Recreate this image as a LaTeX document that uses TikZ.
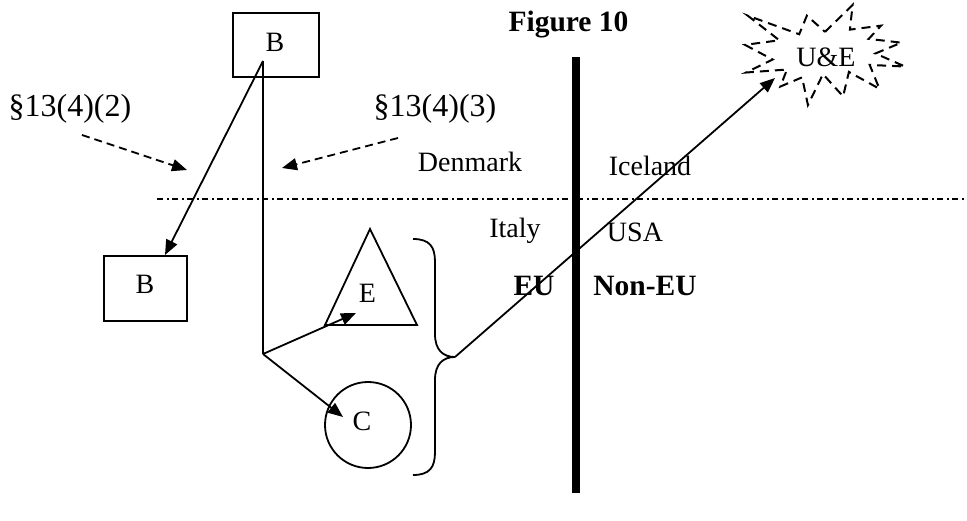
\documentclass[tikz,border=0pt]{standalone}
\usepackage{fontspec}
\setmainfont{Liberation Serif}
\usetikzlibrary{arrows.meta}
\begin{document}
\begin{tikzpicture}[x=1pt,y=-1pt,
  txt/.style={font=\fontsize{28}{32}\selectfont, inner sep=0pt, anchor=base},
  stxt/.style={txt, font=\fontsize{32}{36}\selectfont},
  btxt/.style={txt, font=\fontsize{29.5}{34}\selectfont\bfseries},
  ln/.style={line width=1.8pt},
  arr/.style={ln, -{Triangle[length=15pt,width=12pt]}},
  darr/.style={arr, dash pattern=on 8pt off 5pt},
  boxnode/.style={draw, line width=1.8pt, inner sep=0pt}]
\useasboundingbox (0,0) rectangle (967,521);
% boxes
\node[boxnode, minimum width=86pt, minimum height=64pt] (topB) at (276,45) {};
\node[txt] (topBt) at (275,52) {B};
\node[boxnode, minimum width=83pt, minimum height=65pt] (lowB) at (145.5,288.5) {};
\node[txt] (lowBt) at (145,294) {B};
% triangle
\coordinate (triL) at (325,325);
\coordinate (triA) at (370,229);
\coordinate (triR) at (417,325);
\draw[ln, line join=miter] (triL) -- (triA) -- (triR) -- cycle;
\node[txt] (Et) at (367.5,303) {E};
\coordinate (Etip) at (356,313);
% circle
\node[draw, circle, line width=1.8pt, minimum size=86pt, inner sep=0pt] (circ) at (368,425) {};
\node[txt] (Ct) at (362,430) {C};
\coordinate (Ctip) at (343,417);
% lines
\coordinate (T) at (263,61);
\coordinate (J) at (263,354);
\coordinate (lowBtip) at (165,255);
\draw[ln] (T) -- (J);
\draw[arr] (T) -- (lowBtip);
\draw[arr] (J) -- (Etip);
\draw[arr] (J) -- (Ctip);
% dashed arrows
\coordinate (d1s) at (82,135);
\coordinate (d1e) at (187,170);
\coordinate (d2s) at (398,138);
\coordinate (d2e) at (282,168);
\draw[darr] (d1s) -- (d1e);
\draw[darr] (d2s) -- (d2e);
% labels
\node[stxt] (s2) at (70,117) {§13(4)(2)};
\node[stxt] (s3) at (435,117) {§13(4)(3)};
\node[btxt] (fig) at (568.5,32) {Figure 10};
\node[txt] (den) at (470,172) {Denmark};
\node[txt] (ice) at (650,176) {Iceland};
\node[txt] (ita) at (515,238) {Italy};
\node[txt] (usa) at (635,242) {USA};
\node[btxt] (eu) at (534,296) {EU};
\node[btxt] (neu) at (645,296) {Non-EU};
% dash-dot border
\coordinate (hl) at (157,199);
\coordinate (hr) at (967,199);
\draw[ln, dash pattern=on 6pt off 3.5pt on 2pt off 3.5pt] (hl) -- (hr);
% thick divider
\coordinate (vt) at (576,57);
\coordinate (vb) at (576,493);
\draw[line width=8pt] (vt) -- (vb);
% brace
\coordinate (brtip) at (455,357);
\draw[ln] (413,239) .. controls (430,239) and (435,247) .. (435,262)
  -- (435,334) .. controls (435,350) and (443,357) .. (brtip)
  .. controls (443,357) and (435,364) .. (435,380)
  -- (435,452) .. controls (435,467) and (430,475) .. (413,475);
% burst
\draw[line width=2pt, dash pattern=on 9pt off 6pt, line join=miter]
  (825,31.85) -- (852.6,5) -- (849.9,29.65) -- (881.1,25.63) -- (868.7,38.87)
  -- (901.3,42.67) -- (875.4,53.5) -- (905,66.53) -- (869.7,64.92)
  -- (879.4,88.77) -- (848.9,71.93) -- (843.1,96.38) -- (823.0,74.14)
  -- (807.9,105) -- (802.1,77.35) -- (780.3,86.56) -- (787.0,69.52)
  -- (746,72.53) -- (772.6,59.51) -- (745,44.88) -- (779.3,40.26)
  -- (747.7,15.63) -- (799.2,34.26) -- (806.9,15.63) -- cycle;
\node[txt] (ue) at (826,67) {U\&E};
\coordinate (uetip) at (775,78);
\draw[arr] (brtip) -- (uetip);
\end{tikzpicture}
\end{document}
